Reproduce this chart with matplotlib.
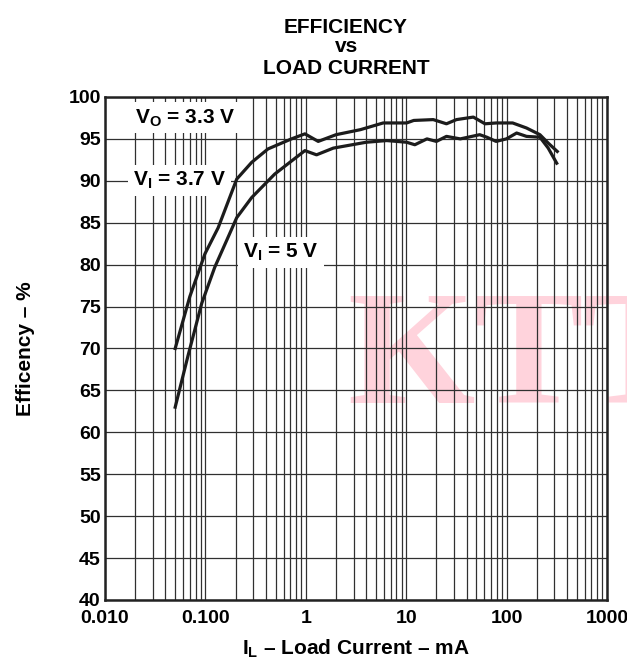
import numpy as np
import matplotlib
matplotlib.use("Agg")
import matplotlib.pyplot as plt
from matplotlib.ticker import FixedLocator, LogLocator, NullFormatter

plt.rcParams['font.family'] = ['Liberation Sans', 'DejaVu Sans']
plt.rcParams['mathtext.fontset'] = 'custom'
plt.rcParams['mathtext.rm'] = 'Liberation Sans:bold'
plt.rcParams['mathtext.bf'] = 'Liberation Sans:bold'

# V_I = 3.7 V curve (load current in mA, efficiency in %)
i_37 = [0.05, 0.07, 0.099, 0.134, 0.205, 0.289, 0.42, 0.72, 0.98, 1.33, 2.0,
        3.5, 5.9, 10.1, 11.9, 18.6, 25.2, 31.7, 46.7, 61.0, 79.0,
        115, 158, 215, 260, 320]
eff_37 = [70.0, 76.2, 81.3, 84.4, 90.2, 92.2, 93.8, 95.0, 95.6, 94.7, 95.5,
          96.1, 96.9, 96.9, 97.2, 97.3, 96.8, 97.3, 97.6, 96.8, 96.9,
          96.9, 96.3, 95.5, 94.5, 93.5]

# V_I = 5 V curve
i_5 = [0.05, 0.067, 0.092, 0.124, 0.163, 0.205, 0.289, 0.49, 0.98, 1.28, 1.88,
       4.0, 6.4, 10.1, 12.2, 16.1, 20.0, 25.2, 34.6, 54.0, 63.6, 78.7,
       99.6, 126, 158, 215, 260, 316]
eff_5 = [63.0, 69.1, 75.4, 79.7, 82.9, 85.6, 88.0, 90.8, 93.6, 93.1, 93.9,
         94.6, 94.8, 94.6, 94.3, 95.0, 94.7, 95.3, 95.0, 95.5, 95.2, 94.7,
         95.0, 95.7, 95.3, 95.2, 93.9, 92.1]

x_ticks = [0.01, 0.1, 1, 10, 100, 1000]
x_labels = ['0.010', '0.100', '1', '10', '100', '1000']
y_ticks = list(range(40, 101, 5))

fig = plt.figure(figsize=(6.27, 6.61), dpi=100)
ax = fig.add_axes([0.1675, 0.0923, 0.8005, 0.761])

ax.set_xscale('log')
ax.set_xlim(0.01, 1000)
ax.set_ylim(40, 100)

ax.xaxis.set_major_locator(FixedLocator(x_ticks))
ax.set_xticklabels(x_labels)
ax.xaxis.set_minor_locator(LogLocator(base=10, subs=np.arange(2, 10)))
ax.xaxis.set_minor_formatter(NullFormatter())
ax.set_yticks(y_ticks)

ax.grid(True, which='both', axis='x', color='#303030', lw=0.9)
ax.grid(True, which='major', axis='y', color='#303030', lw=0.9)
ax.tick_params(which='both', length=0, labelsize=14)
ax.tick_params(axis='x', pad=7)
ax.tick_params(axis='y', pad=3)
for lab in ax.get_xticklabels() + ax.get_yticklabels():
    lab.set_fontweight('bold')
for s in ax.spines.values():
    s.set_linewidth(1.8)
    s.set_color('#222222')

ax.plot(i_37, eff_37, color='#1c1c1c', lw=2.3, zorder=3)
ax.plot(i_5, eff_5, color='#1c1c1c', lw=2.3, zorder=3)

# watermark
ax.text(2.6, 63.5, 'KTT', fontsize=118, family='Liberation Serif',
        fontweight='bold', color='#ffd3dc', zorder=1, clip_on=False,
        va='baseline', ha='left')

box = dict(facecolor='white', edgecolor='none', pad=3.5)
ax.text(0.02, 97.5, r'$\mathbf{V_O}$ = 3.3 V', fontsize=15, fontweight='bold',
        ha='left', va='center', bbox=box, zorder=2.8)
ax.text(0.019, 90.0, r'$\mathbf{V_I}$ = 3.7 V', fontsize=15, fontweight='bold',
        ha='left', va='center', bbox=box, zorder=2.8)
ax.text(0.237, 81.5, r'$\mathbf{V_I}$ = 5 V', fontsize=15, fontweight='bold',
        ha='left', va='center', bbox=box, zorder=2.8)

ax.set_xlabel(r'$\mathbf{I_L}$ – Load Current – mA', fontsize=15, fontweight='bold', labelpad=8)
ax.set_ylabel('Efficency – %', fontsize=15, fontweight='bold', labelpad=24)

fig.text(0.552, 0.959, 'EFFICIENCY', ha='center', va='center', fontsize=15, fontweight='bold')
fig.text(0.552, 0.929, 'vs', ha='center', va='center', fontsize=15, fontweight='bold')
fig.text(0.552, 0.897, 'LOAD CURRENT', ha='center', va='center', fontsize=15, fontweight='bold')

fig.savefig('out.png', dpi=100)
